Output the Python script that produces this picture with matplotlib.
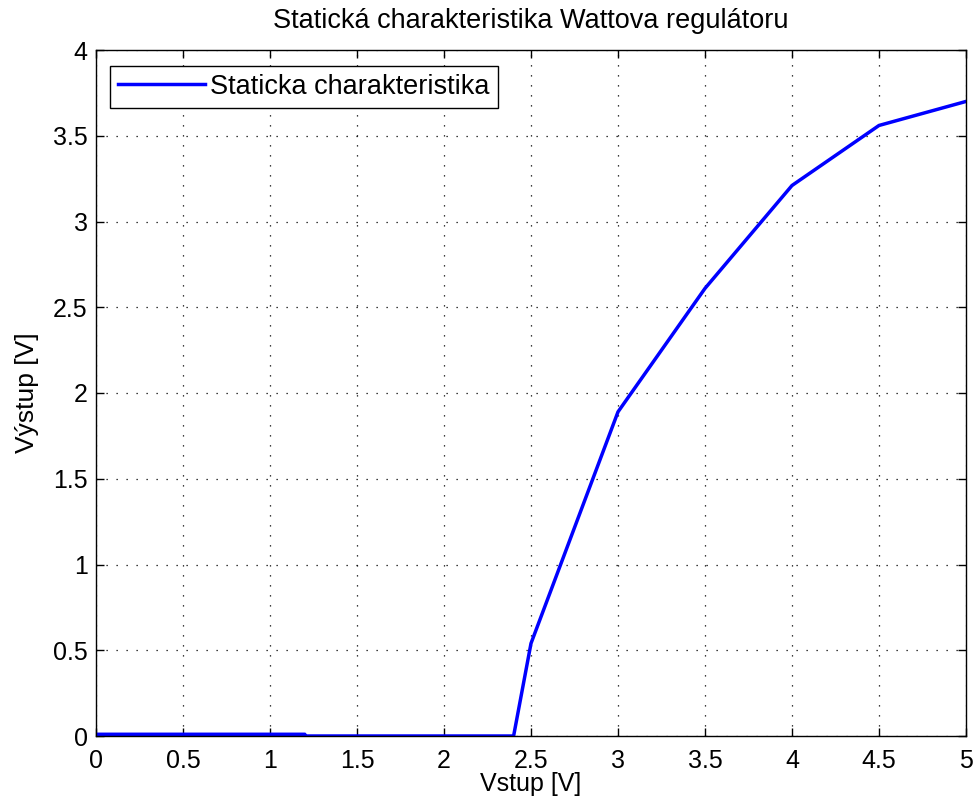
import matplotlib
matplotlib.use("Agg")
import matplotlib.pyplot as plt

x_vals = [0.0, 1.2, 1.2, 2.4, 2.5, 3.0, 3.5, 4.0, 4.5, 5.0]
y_vals = [0.01, 0.01, 0.0, 0.0, 0.54, 1.89, 2.61, 3.21, 3.56, 3.70]
x_ticks = [0, 0.5, 1, 1.5, 2, 2.5, 3, 3.5, 4, 4.5, 5]
x_ticklabels = ["0", "0.5", "1", "1.5", "2", "2.5", "3", "3.5", "4", "4.5", "5"]
y_ticks = [0, 0.5, 1, 1.5, 2, 2.5, 3, 3.5, 4]
y_ticklabels = ["0", "0.5", "1", "1.5", "2", "2.5", "3", "3.5", "4"]

plt.rcParams['font.family'] = ['Liberation Sans', 'DejaVu Sans']
fig = plt.figure(figsize=(9.77, 8.10), dpi=100)
ax = fig.add_axes([96/977, 74/810, 870/977, 686/810])
ax.plot(x_vals, y_vals, color='#0000ff', lw=2.5, label='Staticka charakteristika')
ax.set_xlim(0, 5)
ax.set_ylim(0, 4)
ax.set_xticks(x_ticks)
ax.set_xticklabels(x_ticklabels)
ax.set_yticks(y_ticks)
ax.set_yticklabels(y_ticklabels)
ax.tick_params(direction='in', top=True, right=True, length=6, labelsize=18, width=1)
ax.tick_params(axis='x', pad=9)
ax.tick_params(axis='y', pad=6)
ax.grid(True, color='black', linestyle=(0, (1, 7)), linewidth=0.9)
for s in ax.spines.values():
    s.set_linewidth(1)
ax.set_title('Statická charakteristika Wattova regulátoru', fontsize=19.5, pad=16)
ax.set_xlabel('Vstup [V]', fontsize=18, labelpad=0)
ax.set_ylabel('Výstup [V]', fontsize=19, labelpad=10)
leg = ax.legend(loc='upper left', fontsize=19.5, fancybox=False, framealpha=1,
                edgecolor='black', handlelength=3.2, handletextpad=0.2,
                borderpad=0.3, borderaxespad=0,
                bbox_to_anchor=(0.016, 0.977))
leg.get_frame().set_linewidth(1)
fig.savefig('out.png', dpi=100)
